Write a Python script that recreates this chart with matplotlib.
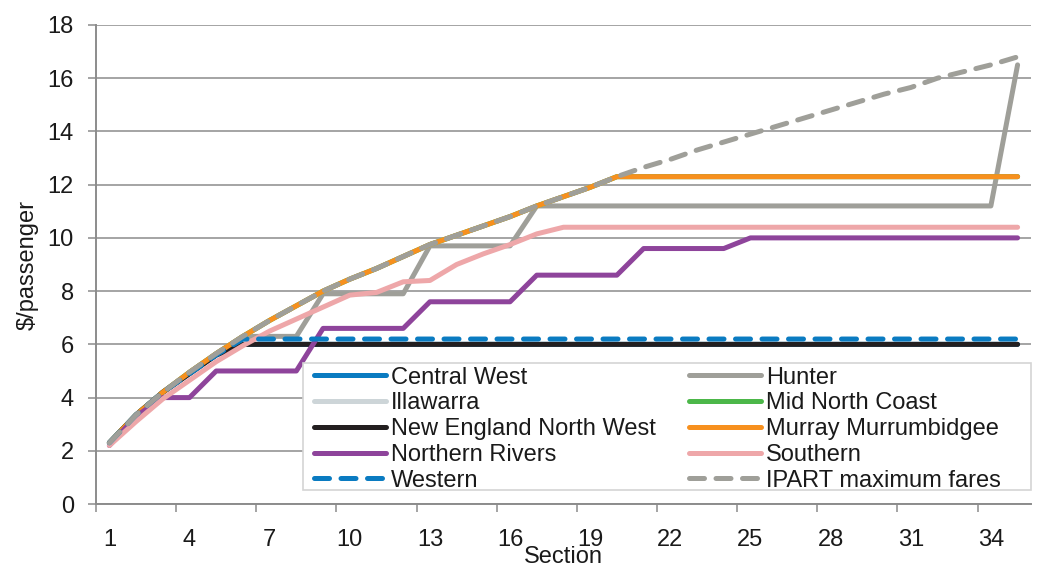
"""Regional bus fares by section compared with IPART maximum fares."""
import matplotlib

matplotlib.use("Agg")
import matplotlib.pyplot as plt
import numpy as np
from matplotlib.patches import Rectangle

plt.rcParams["font.family"] = ["Liberation Sans", "DejaVu Sans"]

sections = np.arange(1, 36)

central_west = [2.3, 3.35, 4.2, 4.9, 5.6, 6.0, 6.0, 6.0, 6.0, 6.0, 6.0, 6.0, 6.0, 6.0, 6.0, 6.0, 6.0, 6.0,
                6.0, 6.0, 6.0, 6.0, 6.0, 6.0, 6.0, 6.0, 6.0, 6.0, 6.0, 6.0, 6.0, 6.0, 6.0, 6.0, 6.0]
hunter = [2.3, 3.35, 4.2, 4.95, 5.65, 6.3, 6.3, 6.3, 7.9, 7.9, 7.9, 7.9, 9.7, 9.7, 9.7, 9.7, 11.2, 11.2,
          11.2, 11.2, 11.2, 11.2, 11.2, 11.2, 11.2, 11.2, 11.2, 11.2, 11.2, 11.2, 11.2, 11.2, 11.2, 11.2, 16.5]
illawarra = [2.3, 3.35, 4.2, 4.95, 5.65, 6.3, 6.9, 7.45, 8.0, 8.45, 8.85, 9.3, 9.75, 10.1, 10.45, 10.8, 11.2, 11.55,
             11.9, 12.3, 12.3, 12.3, 12.3, 12.3, 12.3, 12.3, 12.3, 12.3, 12.3, 12.3, 12.3, 12.3, 12.3, 12.3, 12.3]
mid_north_coast = [2.3, 3.35, 4.2, 4.95, 5.65, 6.3, 6.9, 7.45, 8.0, 8.45, 8.85, 9.3, 9.75, 10.1, 10.45, 10.8, 11.2, 11.55,
                   11.9, 12.3, 12.3, 12.3, 12.3, 12.3, 12.3, 12.3, 12.3, 12.3, 12.3, 12.3, 12.3, 12.3, 12.3, 12.3, 12.3]
new_england = [2.3, 3.35, 4.2, 4.9, 5.6, 6.0, 6.0, 6.0, 6.0, 6.0, 6.0, 6.0, 6.0, 6.0, 6.0, 6.0, 6.0, 6.0,
               6.0, 6.0, 6.0, 6.0, 6.0, 6.0, 6.0, 6.0, 6.0, 6.0, 6.0, 6.0, 6.0, 6.0, 6.0, 6.0, 6.0]
murray = [2.3, 3.35, 4.2, 4.95, 5.65, 6.3, 6.9, 7.45, 8.0, 8.45, 8.85, 9.3, 9.75, 10.1, 10.45, 10.8, 11.2, 11.55,
          11.9, 12.3, 12.3, 12.3, 12.3, 12.3, 12.3, 12.3, 12.3, 12.3, 12.3, 12.3, 12.3, 12.3, 12.3, 12.3, 12.3]
northern_rivers = [2.2, 3.3, 4.0, 4.0, 5.0, 5.0, 5.0, 5.0, 6.6, 6.6, 6.6, 6.6, 7.6, 7.6, 7.6, 7.6, 8.6, 8.6,
                   8.6, 8.6, 9.6, 9.6, 9.6, 9.6, 10.0, 10.0, 10.0, 10.0, 10.0, 10.0, 10.0, 10.0, 10.0, 10.0, 10.0]
southern = [2.2, 3.1, 3.95, 4.65, 5.35, 5.95, 6.5, 6.95, 7.4, 7.85, 7.95, 8.35, 8.4, 9.0, 9.4, 9.75, 10.15, 10.4,
            10.4, 10.4, 10.4, 10.4, 10.4, 10.4, 10.4, 10.4, 10.4, 10.4, 10.4, 10.4, 10.4, 10.4, 10.4, 10.4, 10.4]
western = [2.3, 3.35, 4.2, 4.9, 5.6, 6.2, 6.2, 6.2, 6.2, 6.2, 6.2, 6.2, 6.2, 6.2, 6.2, 6.2, 6.2, 6.2,
           6.2, 6.2, 6.2, 6.2, 6.2, 6.2, 6.2, 6.2, 6.2, 6.2, 6.2, 6.2, 6.2, 6.2, 6.2, 6.2, 6.2]
ipart_max = [2.3, 3.35, 4.2, 4.95, 5.65, 6.3, 6.9, 7.45, 8.0, 8.45, 8.85, 9.3, 9.75, 10.1, 10.45, 10.8, 11.2, 11.55,
             11.9, 12.3, 12.65, 12.95, 13.3, 13.6, 13.9, 14.2, 14.5, 14.8, 15.1, 15.4, 15.65, 16.0, 16.25, 16.5, 16.8]

series = [
    ("Central West", central_west, "#0a7bc1", "-"),
    ("Hunter", hunter, "#9f9f99", "-"),
    ("Illawarra", illawarra, "#cdd5d8", "-"),
    ("Mid North Coast", mid_north_coast, "#4cb749", "-"),
    ("New England North West", new_england, "#231f20", "-"),
    ("Murray Murrumbidgee", murray, "#f7901e", "-"),
    ("Northern Rivers", northern_rivers, "#8e449b", "-"),
    ("Southern", southern, "#eea7a9", "-"),
    ("Western", western, "#0a7bc1", "--"),
    ("IPART maximum fares", ipart_max, "#9f9f99", "--"),
]

GRIS = "#8c8c8c"
TEXTE = "#1a1a1a"

fig = plt.figure(figsize=(10.38, 5.67), dpi=100)
ax = fig.add_axes([0.0925, 0.111, 0.9007, 0.845])

lignes = []
for nom, valeurs, couleur, style in series:
    (l,) = ax.plot(sections, valeurs, color=couleur, lw=3.6, label=nom,
                   solid_capstyle="round", dash_capstyle="round", solid_joinstyle="round")
    if style == "--":
        l.set_dashes((3.0, 2.3))
    lignes.append(l)

ax.set_xlim(0.5, 35.5)
ax.set_ylim(0, 18)
ax.set_yticks(np.arange(0, 19, 2))
ax.yaxis.grid(True, color=GRIS, lw=1.1)
ax.set_axisbelow(True)

# libellés sur les catégories, graduations entre les catégories
ax.set_xticks(np.arange(1, 35, 3))
ax.set_xticks(np.arange(0.5, 34, 3), minor=True)
ax.tick_params(axis="x", which="major", length=0, pad=18, labelsize=17, labelcolor=TEXTE)
ax.tick_params(axis="x", which="minor", length=6, width=1.1, color=GRIS)
ax.tick_params(axis="y", length=6, width=1.1, color=GRIS, pad=10, labelsize=17, labelcolor=TEXTE)

for cote in ("top", "right"):
    ax.spines[cote].set_visible(False)
for cote in ("left", "bottom"):
    ax.spines[cote].set_color(GRIS)
    ax.spines[cote].set_linewidth(1.4)

ax.set_xlabel("Section", fontsize=17, color=TEXTE, labelpad=-4)
ax.set_ylabel("\\$/passenger", fontsize=17, color=TEXTE, labelpad=6)

# cadre blanc de la légende, posé sur les courbes jusqu'au bord droit
cadre = Rectangle((0.2214, 0.0292), 0.7786, 0.2652, transform=ax.transAxes,
                  facecolor="white", edgecolor="#d4d4d4", lw=1.2, zorder=4, clip_on=False)
ax.add_patch(cadre)

# ordre ligne par ligne sur deux colonnes
ordre = [0, 2, 4, 6, 8, 1, 3, 5, 7, 9]
leg = ax.legend([lignes[i] for i in ordre], [series[i][0] for i in ordre],
                ncol=2, loc="upper left", bbox_to_anchor=(0.2332, 0.287),
                borderaxespad=0, borderpad=0, fontsize=17, frameon=False,
                handlelength=3.05, handletextpad=0.21, columnspacing=1.4,
                labelspacing=0.16)
leg.set_zorder(5)
for t in leg.get_texts():
    t.set_color(TEXTE)

fig.savefig("out.png", dpi=100)
